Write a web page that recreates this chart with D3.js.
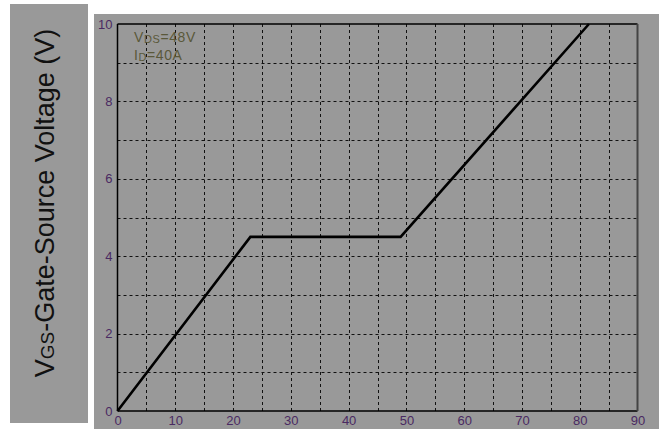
<!DOCTYPE html>
<html>
<head>
<meta charset="utf-8">
<script src="https://cdn.jsdelivr.net/npm/d3@7"></script>
<style>
  html, body { margin: 0; padding: 0; background: #ffffff; }
  svg { display: block; }
</style>
</head>
<body>
<svg id="chart" width="659" height="429"></svg>
<script>
// Gate charge curve: gate-source voltage vs total gate charge
const chargeNC = [0, 23, 49, 81.6];
const vgsVolts = [0, 4.5, 4.5, 10];

const xTickValues = [0, 10, 20, 30, 40, 50, 60, 70, 80, 90];
const yTickValues = [0, 2, 4, 6, 8, 10];
const xGridValues = [5, 10, 15, 20, 25, 30, 35, 40, 45, 50, 55, 60, 65, 70, 75, 80, 85];
const yGridValues = [1, 2, 3, 4, 5, 6, 7, 8, 9];

const svg = d3.select("#chart");
const W = 659, H = 429;
const bg = "#999999";
const labelColor = "#4a2a62";

// side panel holding the axis title
svg.append("rect").attr("x", 10).attr("y", 4).attr("width", 78).attr("height", 419).attr("fill", bg);

// main chart panel
svg.append("rect").attr("x", 94).attr("y", 14).attr("width", W - 94).attr("height", H - 14).attr("fill", bg);

const plot = { left: 117.5, right: 637.5, top: 24, bottom: 411 };

const x = d3.scaleLinear().domain([0, 90]).range([plot.left, plot.right]);
const y = d3.scaleLinear().domain([0, 10]).range([plot.bottom, plot.top]);

// dashed grid
svg.append("g").selectAll("line").data(xGridValues).join("line")
  .attr("x1", d => Math.round(x(d)) + 0.5).attr("x2", d => Math.round(x(d)) + 0.5)
  .attr("y1", plot.top).attr("y2", plot.bottom)
  .attr("stroke", "#111").attr("stroke-width", 1).attr("stroke-dasharray", "3,3");

svg.append("g").selectAll("line").data(yGridValues).join("line")
  .attr("y1", d => Math.round(y(d)) + 0.5).attr("y2", d => Math.round(y(d)) + 0.5)
  .attr("x1", plot.left).attr("x2", plot.right)
  .attr("stroke", "#111").attr("stroke-width", 1).attr("stroke-dasharray", "3,3");

// plot frame
svg.append("line").attr("x1", plot.left).attr("x2", plot.right).attr("y1", plot.top).attr("y2", plot.top)
  .attr("stroke", "#000").attr("stroke-width", 1.5);
svg.append("line").attr("x1", plot.left).attr("x2", plot.left).attr("y1", plot.top).attr("y2", plot.bottom)
  .attr("stroke", "#000").attr("stroke-width", 1.5);
svg.append("line").attr("x1", plot.left).attr("x2", plot.right).attr("y1", plot.bottom).attr("y2", plot.bottom)
  .attr("stroke", "#000").attr("stroke-width", 1.5);
svg.append("line").attr("x1", plot.right).attr("x2", plot.right).attr("y1", plot.top).attr("y2", plot.bottom)
  .attr("stroke", "#444").attr("stroke-width", 2);

// axes: labels only, no tick marks or domain lines
const xAxis = d3.axisBottom(x).tickValues(xTickValues).tickSize(0).tickPadding(5).tickFormat(d3.format("d"));
const yAxis = d3.axisLeft(y).tickValues(yTickValues).tickSize(0).tickPadding(5).tickFormat(d3.format("d"));

const gx = svg.append("g").attr("transform", `translate(0,${plot.bottom})`).call(xAxis);
const gy = svg.append("g").attr("transform", `translate(${plot.left},0)`).call(yAxis);
[gx, gy].forEach(g => {
  g.select(".domain").remove();
  g.selectAll("text").attr("fill", labelColor)
    .style("font-family", "'Liberation Sans', Arial, sans-serif").style("font-size", "13px");
});

// the curve
const line = d3.line().x(d => x(d[0])).y(d => y(d[1]));
svg.append("path")
  .datum(chargeNC.map((q, i) => [q, vgsVolts[i]]))
  .attr("d", line)
  .attr("fill", "none").attr("stroke", "#000").attr("stroke-width", 2.6)
  .attr("stroke-linejoin", "miter");

// test conditions
const note = svg.append("g").attr("fill", "#5a583a")
  .style("font-family", "'Liberation Sans', Arial, sans-serif").style("font-size", "14px")
  .style("letter-spacing", "0.6px");
const t1 = note.append("text").attr("x", 134).attr("y", 42);
t1.append("tspan").text("V");
t1.append("tspan").attr("font-size", "11px").attr("dy", 1).text("DS");
t1.append("tspan").attr("dy", -1).text("=48V");
const t2 = note.append("text").attr("x", 134).attr("y", 60);
t2.append("tspan").text("I");
t2.append("tspan").attr("font-size", "11px").attr("dy", 1).text("D");
t2.append("tspan").attr("dy", -1).text("=40A");

// rotated axis title
const title = svg.append("text")
  .attr("transform", `translate(54,203) rotate(-90)`)
  .attr("text-anchor", "middle")
  .attr("fill", "#111")
  .style("font-family", "'Liberation Sans', Arial, sans-serif")
  .style("font-size", "27px");
title.append("tspan").text("V");
title.append("tspan").attr("font-size", "19px").text("GS");
title.append("tspan").text("-Gate-Source Voltage (V)");
</script>
</body>
</html>
